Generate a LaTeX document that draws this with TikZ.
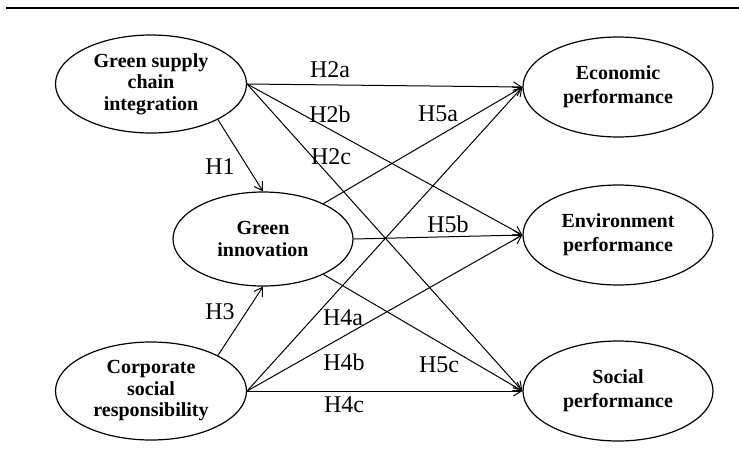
\documentclass[tikz,border=0pt]{standalone}
\usepackage{fontspec}
\setmainfont{Liberation Serif}
\usetikzlibrary{arrows.meta,shapes.geometric}

\begin{document}
\begin{tikzpicture}[x=1pt, y=-1pt,
    construct/.style={ellipse, draw, line width=1.2pt, minimum width=191pt,
                      minimum height=98pt, inner sep=0pt, align=center,
                      font=\fontsize{20}{21.5}\selectfont\bfseries},
    outcome/.style={construct, minimum width=190pt, minimum height=100pt,
                    font=\fontsize{20}{24.3}\selectfont\bfseries},
    arrow/.style={-{Straight Barb[length=8pt,width=10pt]}, line width=1pt},
    hyp/.style={font=\fontsize{24}{26}\selectfont, inner sep=0pt}
]
\useasboundingbox (0,0) rectangle (739,451);
\draw[line width=1.3pt] (6,8) -- (739,8);

% constructs
\node[construct] (gsci) at (151,84) {Green supply\\chain\\integration};
\node[construct, minimum width=180pt, minimum height=94pt] (gi) at (263,239) {Green\\innovation};
\node[construct] (csr) at (151,391) {Corporate\\social\\responsibility};
\node[outcome] (econ) at (618,87) {Economic\\performance};
\node[outcome] (env) at (618,235) {Environment\\performance};
\node[outcome] (soc) at (618,391) {Social\\performance};

% paths
\draw[arrow] (gsci.-28) -- (gi.north);
\draw[arrow] (csr.28) -- (gi.south);
\draw[arrow] (gsci.east) -- (econ.west);
\draw[arrow] (gsci.east) -- (env.west);
\draw[arrow] (gsci.east) -- (soc.west);
\draw[arrow] (gi) -- (econ.west);
\draw[arrow] (gi.east) -- (env.west);
\draw[arrow] (gi) -- (soc.west);
\draw[arrow] (csr.east) -- (econ.west);
\draw[arrow] (csr.east) -- (env.west);
\draw[arrow] (csr.east) -- (soc.west);

% hypotheses
\node[hyp] (h1) at (220,167) {H1};
\node[hyp] (h2a) at (330,70) {H2a};
\node[hyp] (h2b) at (330,114) {H2b};
\node[hyp] (h2c) at (331,157) {H2c};
\node[hyp] (h3) at (220,312) {H3};
\node[hyp] (h4a) at (343,318) {H4a};
\node[hyp] (h4b) at (344,362) {H4b};
\node[hyp] (h4c) at (344,405) {H4c};
\node[hyp] (h5a) at (438,114) {H5a};
\node[hyp] (h5b) at (448,224) {H5b};
\node[hyp] (h5c) at (439,365) {H5c};
\end{tikzpicture}
\end{document}
